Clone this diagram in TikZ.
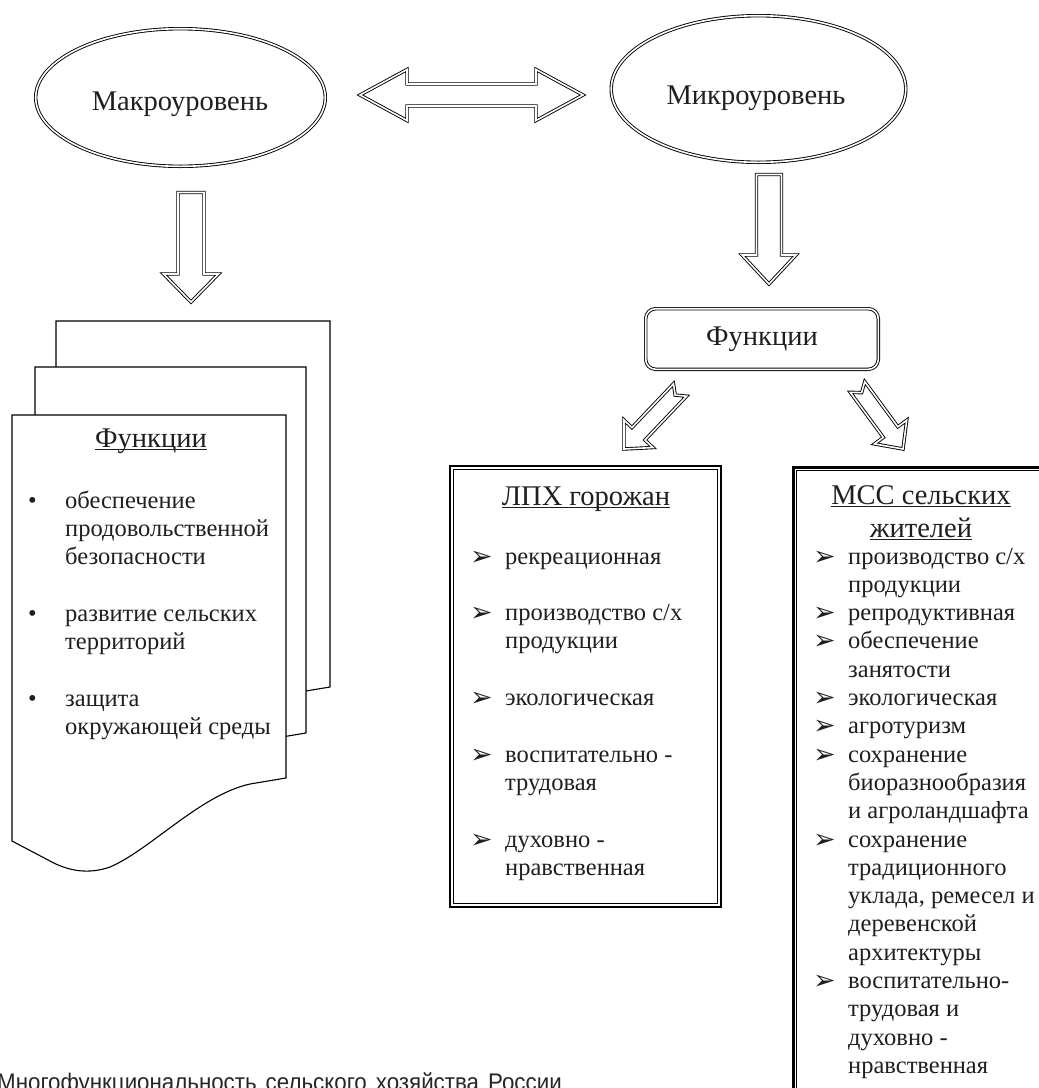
\documentclass[tikz,border=0pt]{standalone}
\usepackage{fontspec}
\setmainfont{Liberation Serif}
\newfontfamily\dejavu{DejaVu Sans}
\newfontfamily\capfont[FakeStretch=0.93]{Liberation Sans}
\usetikzlibrary{shapes.geometric,calc}
\newcommand\ulx[1]{\setbox0\hbox{#1}\rlap{\rule[-3.2pt]{\wd0}{1.3pt}}\box0}
\newcommand\arr{\raisebox{-1pt}{\dejavu\fontsize{27}{27}\selectfont ➢}}
\newcommand\blt{\raisebox{0pt}{•}}
\newcommand\blockarrow[6]{%
  \coordinate (ba-b) at ($(#2)!#5!(#1)$);
  \coordinate (ba-n) at ($(#1)!#6!(#2)$);
  \draw[blk] ($(#1)!#3!90:(#2)$) -- ($(ba-b)!#3!90:(#2)$) -- ($(ba-b)!#4!90:(#2)$) -- (#2)
    -- ($(ba-b)!#4!-90:(#2)$) -- ($(ba-b)!#3!-90:(#2)$) -- ($(#1)!#3!-90:(#2)$) -- (ba-n) -- cycle;}
\newcommand\dblarrow[5]{%
  \coordinate (da-a) at ($(#1)!#5!(#2)$);
  \coordinate (da-b) at ($(#2)!#5!(#1)$);
  \draw[blk] (#1) -- ($(da-a)!#4!90:(#2)$) -- ($(da-a)!#3!90:(#2)$) -- ($(da-b)!#3!90:(#2)$)
    -- ($(da-b)!#4!90:(#2)$) -- (#2) -- ($(da-b)!#4!-90:(#2)$) -- ($(da-b)!#3!-90:(#2)$)
    -- ($(da-a)!#3!-90:(#2)$) -- ($(da-a)!#4!-90:(#2)$) -- cycle;}
\newcommand\docpath[4]{%
  \draw[docsheet] (#1,#2) -- (#3,#2) -- (#3,#4) -- ({#3-36},{#4+6})
    .. controls ({#3-86},{#4+17}) and ({#3-136},{#4+72}) .. ({#3-176},{#4+89})
    .. controls ({#3-196},{#4+96}) and ({#3-216},{#4+94}) .. ({#3-236},{#4+83})
    -- (#1,{#4+63}) -- cycle;}
\tikzset{
  dbl/.style={draw=black, double=white, double distance=1.6pt, line width=0.9pt},
  blk/.style={dbl, line join=miter, miter limit=4},
  docsheet/.style={draw=black, line width=1.1pt, fill=white},
  big/.style={font=\fontsize{28.5}{33}\selectfont, inner sep=0pt, text=black!88},
  lst/.style={font=\fontsize{24.5}{28.3}\selectfont, inner sep=0pt, anchor=base west, align=left, text=black!88},
  frame/.style={draw=black, line width=2.4pt, inner sep=0pt},
  inframe/.style={draw=black, line width=0.8pt},
}
\begin{document}
\begin{tikzpicture}[x=1pt,y=-1pt]
\useasboundingbox (0,0) rectangle (1039,1088);
\clip (0,0) rectangle (1039,1088);
\fill[white] (0,0) rectangle (1039,1088);

% ellipses
\node[ellipse, dbl, minimum width=289.6pt, minimum height=137.6pt, inner sep=0pt] (macro) at (180.5,97.5) {};
\node[big, anchor=base] (macrot) at (180,110) {Макроуровень};
\node[ellipse, dbl, minimum width=294.6pt, minimum height=146.6pt, inner sep=0pt] (micro) at (758.5,89) {};
\node[big, anchor=base] (microt) at (756,104) {Микроуровень};

% horizontal double arrow
\coordinate (h1) at (360,95);
\coordinate (h2) at (583,95);
\dblarrow{h1}{h2}{11pt}{25.5pt}{47pt}

% down arrows
\coordinate (d1s) at (191,192.5);
\coordinate (d1e) at (191,302);
\blockarrow{d1s}{d1e}{13pt}{27.5pt}{28pt}{0pt}
\coordinate (d2s) at (769,174.5);
\coordinate (d2e) at (769,284);
\blockarrow{d2s}{d2e}{12.5pt}{27pt}{29pt}{0pt}

% Functions box
\node[dbl, rounded corners=10pt, minimum width=232.6pt, minimum height=60.6pt, inner sep=0pt, big] (func) at (762,339) {Функции};

% diagonal arrows
\coordinate (a1s) at (680,390);
\coordinate (a1e) at (624,449);
\blockarrow{a1s}{a1e}{9pt}{20pt}{21pt}{7pt}
\coordinate (a2s) at (857.5,387);
\coordinate (a2e) at (903,449);
\blockarrow{a2s}{a2e}{9pt}{20pt}{21pt}{7pt}

% document stack
\docpath{56}{321}{330}{687}
\docpath{35}{367}{306}{733}
\docpath{12}{415}{286}{778}
\node[big, anchor=base] (doct) at (151,447) {\ulx{Функции}};
\node[lst] (docl) at (28,508) {\begin{tabular}[t]{@{}p{37pt}@{}l@{}}
\blt & обеспечение\\
 & продовольственной\\
 & безопасности\\
 & \\
\blt & развитие сельских\\
 & территорий\\
 & \\
\blt & защита\\
 & окружающей среды
\end{tabular}};

% LPH box
\node[frame, minimum width=270.6pt, minimum height=440.6pt] (lph) at (585.5,686.5) {};
\draw[inframe] ([shift={(4.2,4.2)}]lph.north west) rectangle ([shift={(-4.2,-4.2)}]lph.south east);
\node[big, anchor=base] (lpht) at (586,505) {\ulx{ЛПХ горожан}};
\node[lst] (lphl) at (470,564) {\begin{tabular}[t]{@{}p{35pt}@{}l@{}}
\arr & рекреационная\\
 & \\
\arr & производство с/х\\
 & продукции\\
 & \\
\arr & экологическая\\
 & \\
\arr & воспитательно -\\
 & трудовая\\
 & \\
\arr & духовно -\\
 & нравственная
\end{tabular}};

% MSS box
\node[frame, minimum width=259.6pt, minimum height=652.6pt, anchor=north west] (mss) at (792.2,466.2) {};
\draw[inframe] ([shift={(4.2,4.2)}]mss.north west) rectangle ([shift={(-4.2,-4.2)}]mss.south east);
\node[big, anchor=base] (msst1) at (921,504) {\ulx{МСС сельских}};
\node[big, anchor=base] (msst2) at (921,537) {\ulx{жителей}};
\node[lst] (mssl) at (813,564) {\begin{tabular}[t]{@{}p{35pt}@{}l@{}}
\arr & производство с/х\\
 & продукции\\
\arr & репродуктивная\\
\arr & обеспечение\\
 & занятости\\
\arr & экологическая\\
\arr & агротуризм\\
\arr & сохранение\\
 & биоразнообразия\\
 & и агроландшафта\\
\arr & сохранение\\
 & традиционного\\
 & уклада, ремесел и\\
 & деревенской\\
 & архитектуры\\
\arr & воспитательно-\\
 & трудовая и\\
 & духовно -\\
 & нравственная
\end{tabular}};

% caption
\node[anchor=base west, inner sep=0pt, font=\capfont\fontsize{24}{24}\selectfont, text=black!85] (cap) at (-3,1090) {Многофункциональность\hspace{9pt}сельского\hspace{9pt}хозяйства\hspace{9pt}России};
\end{tikzpicture}
\end{document}
